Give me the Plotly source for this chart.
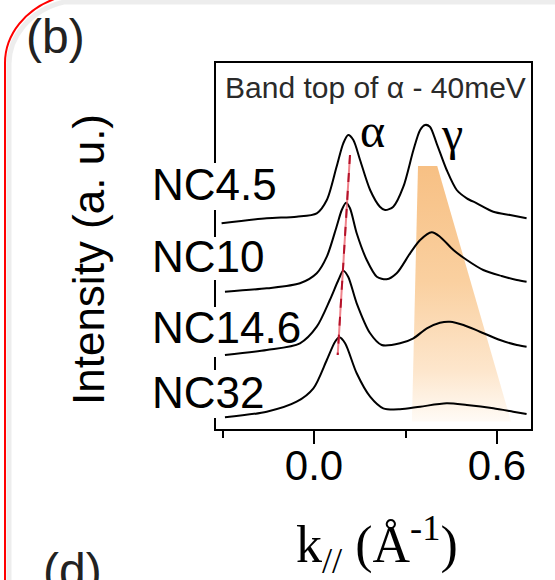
import plotly.graph_objects as go

# ---------------- data ----------------
samples = ["NC4.5", "NC10", "NC14.6", "NC32"]

k_nc45 = [-0.303, -0.155, -0.057, 0.009, 0.042, 0.074, 0.096, 0.112, 0.129, 0.151, 0.184, 0.216,
          0.233, 0.260, 0.293, 0.326, 0.348, 0.364, 0.380, 0.402, 0.435, 0.468, 0.501, 0.534,
          0.588, 0.643, 0.697]
i_nc45 = [2.057, 2.107, 2.123, 2.157, 2.29, 2.623, 2.857, 2.94, 2.89, 2.69, 2.39, 2.223,
          2.19, 2.223, 2.423, 2.79, 2.99, 3.04, 3.023, 2.857, 2.59, 2.39, 2.307, 2.257,
          2.173, 2.14, 2.107]

k_nc10 = [-0.292, -0.155, -0.046, 0.009, 0.042, 0.074, 0.091, 0.105, 0.118, 0.140, 0.173, 0.206,
          0.238, 0.271, 0.315, 0.348, 0.386, 0.413, 0.457, 0.501, 0.555, 0.615, 0.665, 0.697]
i_nc10 = [1.373, 1.407, 1.457, 1.557, 1.723, 2.023, 2.19, 2.263, 2.207, 1.957, 1.69, 1.523,
          1.497, 1.557, 1.757, 1.89, 1.967, 1.923, 1.79, 1.69, 1.59, 1.53, 1.49, 1.473]

k_nc146 = [-0.292, -0.155, -0.046, 0.009, 0.052, 0.080, 0.096, 0.112, 0.140, 0.184, 0.222, 0.282,
           0.326, 0.370, 0.413, 0.446, 0.490, 0.544, 0.610, 0.665, 0.697]
i_nc146 = [0.74, 0.79, 0.857, 1.023, 1.29, 1.49, 1.583, 1.523, 1.257, 0.957, 0.84, 0.857,
           0.907, 1.007, 1.063, 1.073, 1.04, 0.973, 0.89, 0.84, 0.823]

k_nc32 = [-0.292, -0.155, -0.057, -0.002, 0.042, 0.069, 0.083, 0.102, 0.140, 0.184, 0.227, 0.282,
          0.348, 0.435, 0.501, 0.588, 0.653, 0.697]
i_nc32 = [0.117, 0.173, 0.273, 0.407, 0.69, 0.873, 0.917, 0.857, 0.557, 0.323, 0.207, 0.197,
          0.223, 0.257, 0.24, 0.207, 0.173, 0.15]

# alpha-peak guide line (k, intensity)
alpha_k = [0.118, 0.0777]
alpha_i = [2.74, 0.74]

# gamma shaded region (k, intensity)
gamma_k = [0.341, 0.404, 0.646, 0.321, 0.341]
gamma_i = [2.63, 2.63, 0.075, 0.075, 2.63]

x_major_ticks = [0.0, 0.6]
x_major_labels = ["0.0", "0.6"]
x_minor_ticks = [-0.3, 0.3]

# ---------------- layout helpers ----------------
W, H = 555, 580
L, R, T, B = 216, 531, 63, 429
PW, PH = R - L, B - T


def fx(x):
    return (x - L) / PW


def fy(y):
    return (B - y) / PH


SANS = "Liberation Sans, Arial, sans-serif"
SERIF = "Liberation Serif, Times New Roman, serif"

fig = go.Figure()

fig.add_trace(go.Scatter(
    x=gamma_k, y=gamma_i, mode="lines", fill="toself", line=dict(width=0),
    fillgradient=dict(type="vertical",
                      colorscale=[[0, "rgb(255,251,246)"], [0.2, "rgb(253,230,204)"],
                                  [0.55, "rgb(250,208,160)"], [1, "rgb(247,192,132)"]]),
    hoverinfo="skip", showlegend=False))

for kk, ii, name in [(k_nc45, i_nc45, samples[0]), (k_nc10, i_nc10, samples[1]),
                     (k_nc146, i_nc146, samples[2]), (k_nc32, i_nc32, samples[3])]:
    fig.add_trace(go.Scatter(x=kk, y=ii, mode="lines", name=name,
                             line=dict(color="black", width=2, shape="spline", smoothing=0.8),
                             showlegend=False))

fig.add_trace(go.Scatter(x=alpha_k, y=alpha_i, mode="lines",
                         line=dict(color="rgba(235,90,100,0.75)", width=2),
                         showlegend=False, hoverinfo="skip"))
fig.add_trace(go.Scatter(x=alpha_k, y=alpha_i, mode="lines",
                         line=dict(color="#b3122a", width=2, dash="dash"),
                         showlegend=False, hoverinfo="skip"))

shapes = []
# white gaps in the left axis behind the sample labels
for y0, y1 in [(163, 210), (237, 280), (307, 357), (370, 418)]:
    shapes.append(dict(type="rect", xref="paper", yref="paper",
                       x0=fx(211), x1=fx(221), y0=fy(y1), y1=fy(y0),
                       fillcolor="white", line=dict(width=0), layer="above"))


def path(cmds):
    out = []
    for c, pts in cmds:
        out.append(c + " " + " ".join(f"{fx(a):.5f},{fy(b):.5f}" for a, b in pts))
    return " ".join(out)


# shadow of the rounded panel frame
shapes.append(dict(type="path", xref="paper", yref="paper",
                   path=path([("M", [(9, 585)]), ("L", [(9, 64)]),
                              ("C", [(9, 38), (29, 10), (64, 2)]), ("L", [(560, 2)])]),
                   line=dict(color="rgba(0,0,0,0.07)", width=5)))
# red rounded frame
shapes.append(dict(type="path", xref="paper", yref="paper",
                   path=path([("M", [(5, 585)]), ("L", [(5, 63)]),
                              ("C", [(5, 35), (25, 8), (60, -3)])]),
                   line=dict(color="#ff0000", width=2)))

ann = []


def add_text(text, x, y, size, family=SANS, color="black", xanchor="center",
             yanchor="middle", textangle=0):
    ann.append(dict(text=text, x=fx(x), y=fy(y), xref="paper", yref="paper",
                    xanchor=xanchor, yanchor=yanchor, showarrow=False,
                    textangle=textangle, font=dict(size=size, family=family, color=color)))


add_text("(b)", 55, 36, 48, color="#222")
add_text("(d)", 72, 542, 48, color="#222", yanchor="top")
add_text("Intensity (a. u.)", 88, 260, 44, textangle=-90)
for lab, yy in zip(samples, [184, 256, 327, 392]):
    add_text(lab, 150, yy, 44, xanchor="left")
add_text("Band top of α - 40meV", 375, 88, 30, color="#2a2a2a")
add_text("α", 372, 130, 48, family=SERIF)
add_text("γ", 452, 133, 48, family=SERIF)
add_text("k<sub>//</sub> (Å<sup>-1</sup>)", 377, 544, 52, family=SERIF)

fig.update_layout(
    width=W, height=H, autosize=False,
    margin=dict(l=L, r=W - R, t=T, b=H - B, pad=0),
    paper_bgcolor="white", plot_bgcolor="white",
    shapes=shapes, annotations=ann, showlegend=False,
    xaxis=dict(range=[(L - 314) / 305, (R - 314) / 305], showgrid=False, zeroline=False,
               showline=True, mirror=True, linecolor="black", linewidth=2,
               ticks="outside", ticklen=13, tickwidth=2, tickcolor="black",
               tickvals=x_major_ticks, ticktext=x_major_labels, ticklabelstandoff=-14,
               tickfont=dict(size=42, family=SANS, color="black"),
               minor=dict(tickvals=x_minor_ticks, ticks="outside", ticklen=7,
                          tickwidth=2, tickcolor="black")),
    yaxis=dict(range=[0, PH / 100], showgrid=False, zeroline=False, showline=True,
               mirror=True, linecolor="black", linewidth=2, showticklabels=False,
               ticks=""),
)

fig.write_html("out.html", config={"displayModeBar": False},
               post_script="document.body.style.margin='0';document.body.style.overflow='hidden';")
